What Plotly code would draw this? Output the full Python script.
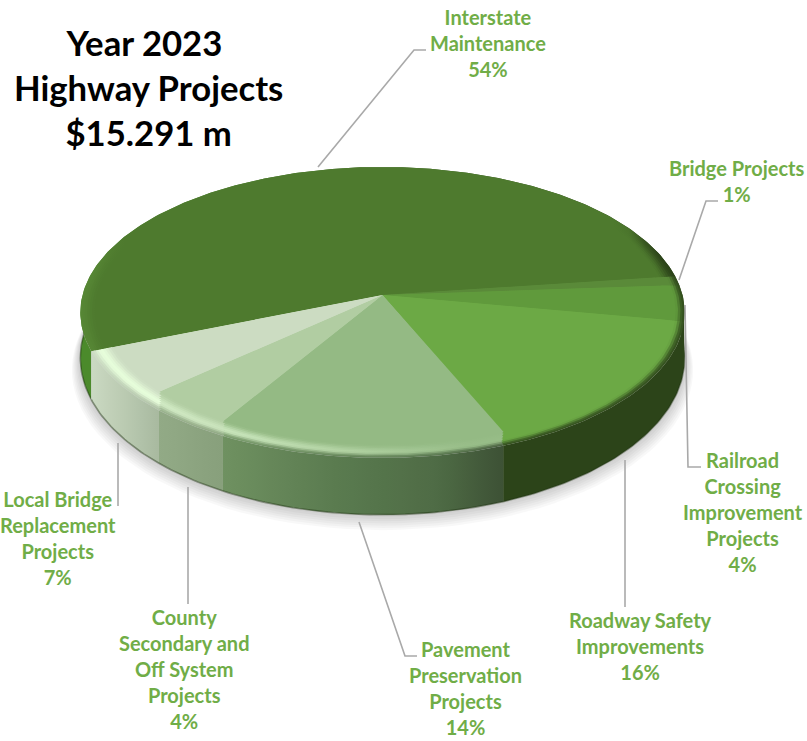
import math
import plotly.graph_objects as go

# ---- data ----
categories = ["Interstate<br>Maintenance", "Bridge Projects",
              "Railroad<br>Crossing<br>Improvement<br>Projects",
              "Roadway Safety<br>Improvements",
              "Pavement<br>Preservation<br>Projects",
              "County<br>Secondary and<br>Off System<br>Projects",
              "Local Bridge<br>Replacement<br>Projects"]
shares = [54.0, 1.0, 4.0, 16.3, 13.7, 4.0, 7.0]
title_lines = ["Year 2023&nbsp;", "Highway Projects", "$15.291 m"]

# ---- style ----
top_colors = ["#4E7A2E", "#5A8A39", "#609A3C", "#6CA945", "#94BA84", "#B1CDA2", "#CCDCC2"]
wall_stops = [
    [(85, "#4B8A2B"), (130, "#4B8A2B"), (600, "#2C4419")],
    [(0, "#2C4419")],
    [(0, "#2C4419")],
    [(0, "#2C4419")],
    [(222, "#6F9161"), (330, "#5B7C50"), (440, "#4E6B45"), (505, "#3C5034")],
    [(158, "#92AA86"), (222, "#88A07C")],
    [(90, "#CBDAC3"), (158, "#A9BAA0")],
]
glow_strength = [0, 0, 0, 0, 0.85, 0.6, 1.0]
label_color = "#70AD47"
leader_color = "#A9A9A9"
label_pos = [(488, 43), (737, 181), (743, 512), (640, 646), (465, 688), (184, 669), (58, 538)]
leaders = [
    [(318, 167), (414, 50), (426, 50)],
    [(679, 280), (706, 201), (718, 201)],
    [(685, 305), (688, 467), (701, 467)],
    [(625, 460), (625, 607)],
    [(359, 522), (405, 656), (417, 656)],
    [(188, 487), (188, 604)],
    [(118, 443), (118, 506)],
]

# ---- geometry of the tilted disc ----
CX, CY, A, B, K, DEPTH = 382.5, 295.0, 300.0, 143.4, 0.12, 44.0
START = 158.0


def project(t_deg, r=1.0, depth=0.0, grow=0.0):
    t = math.radians(t_deg)
    X, Y = r * math.cos(t), r * math.sin(t)
    s = 1.0 / (1.0 - K * Y)
    rr = 1.0 / (1.0 - K * math.sin(t))
    return CX + (A * s * X) * (1 + grow), CY + B * s * Y + depth * rr * rr


def warp(a, r):
    """On the front of the disc the bevel's crease runs straight down: find the
    angle at radius r with the same x as the edge angle a at the outer rim."""
    if math.sin(math.radians(a)) < 0.6:
        return a
    target = project(a)[0]
    best, err = a, 1e9
    for k in range(-60, 61):
        b = a + k * 0.25
        e = abs(project(b, r)[0] - target)
        if e < err:
            best, err = b, e
    return best


def rgb(c):
    return tuple(int(c[i:i + 2], 16) for i in (1, 3, 5))


def mix(a, b, w):
    return tuple(a[i] + (b[i] - a[i]) * w for i in range(3))


def css(c):
    return "rgb(%d,%d,%d)" % tuple(round(v) for v in c)


def wall_color(i, x):
    st = wall_stops[i]
    if x <= st[0][0]:
        return rgb(st[0][1])
    for (x0, c0), (x1, c1) in zip(st, st[1:]):
        if x <= x1:
            return mix(rgb(c0), rgb(c1), (x - x0) / (x1 - x0))
    return rgb(st[-1][1])


def smooth(u):
    u = max(0.0, min(1.0, u))
    return u * u * (3 - 2 * u)


def glow(x):
    pts = [(0, 0.95), (160, 0.95), (222, 0.75), (350, 0.4), (470, 0.05), (900, 0.0)]
    for (x0, v0), (x1, v1) in zip(pts, pts[1:]):
        if x <= x1:
            return v0 + (v1 - v0) * (x - x0) / (x1 - x0)
    return 0.0


def rim_color(i, x, u):
    top = rgb(top_colors[i])
    if i == 0:
        # the large back slice: faint lighter rim on the left, dark on the right
        left = smooth((125 - x) / 35)
        right = smooth((x - 620) / 40)
        c = mix(top, (86, 134, 52), left * smooth((u - 0.3) / 0.7))
        return mix(c, (44, 68, 25), right * smooth((u - 0.2) / 0.8))
    hi = mix(top, (232, 255, 220), glow(x) * glow_strength[i])
    if u < 0.6:
        return mix(top, hi, smooth(u / 0.6))
    return mix(hi, wall_color(i, x), 0.85 * smooth((u - 0.6) / 0.4))


GX0, GX1 = 60.0, 710.0
NSTOPS = 40


def gradient(fn):
    cs = []
    for k in range(NSTOPS + 1):
        f = k / NSTOPS
        cs.append([f, css(fn(GX0 + (GX1 - GX0) * f))])
    return dict(type="horizontal", colorscale=cs, start=GX0, stop=GX1)


def poly(xs, ys, **kw):
    return go.Scatter(x=xs, y=ys, mode="lines", fill="toself", line=dict(width=0),
                      hoverinfo="skip", showlegend=False, **kw)


total = sum(shares)
edges = [START]
for v in shares:
    edges.append(edges[-1] + 360.0 * v / total)

traces = []

# soft shadow under the disc
for g in range(1, 8):
    pts = [project(a * 3.0, 1.0, DEPTH + 1.7 * g, 0.004 * g) for a in range(121)]
    traces.append(poly([p[0] for p in pts], [p[1] for p in pts],
                       fillcolor="rgba(0,0,0,0.028)"))

# walls
for i in range(len(shares)):
    a0, a1 = edges[i], edges[i + 1]
    n = max(4, int(a1 - a0))
    ang = [a0 + (a1 - a0) * j / n for j in range(n + 1)]
    up = [project(a) for a in ang]
    lo = [project(a, 1.0, DEPTH) for a in ang]
    ring = up + lo[::-1]
    traces.append(poly([p[0] for p in ring], [p[1] for p in ring],
                       fillgradient=gradient(lambda x, i=i: wall_color(i, x))))
    traces.append(go.Scatter(x=[p[0] for p in lo], y=[p[1] for p in lo], mode="lines",
                             line=dict(width=1.6, color="rgba(28,48,16,0.45)"),
                             hoverinfo="skip", showlegend=False))

# top faces: nested sectors, outermost rim first, so no seams show
RADII = [1.0, 0.993, 0.986, 0.978, 0.97, 0.962, 0.954, 0.946, 0.938, 0.93]
for m, r in enumerate(RADII):
    u = 1.0 - m / (len(RADII) - 1)
    for i in range(len(shares)):
        a0, a1 = warp(edges[i], r), warp(edges[i + 1], r)
        n = max(4, int(a1 - a0))
        ang = [a0 + (a1 - a0) * j / n for j in range(n + 1)]
        pts = [project(a, r) for a in ang] + [(CX, CY)]
        xs = [p[0] for p in pts] + [pts[0][0]]
        ys = [p[1] for p in pts] + [pts[0][1]]
        traces.append(poly(xs, ys, fillgradient=gradient(lambda x, i=i, u=u: rim_color(i, x, u))))

fig = go.Figure(traces)

annotations = []
for name, v, (x, y) in zip(categories, shares, label_pos):
    annotations.append(dict(x=x, y=y, xref="x", yref="y", showarrow=False, align="center",
                            xanchor="center", yanchor="middle", text=f"<b>{name}<br>{v:.0f}%</b>",
                            font=dict(family="Lato", size=20, color=label_color)))
annotations.append(dict(x=148, y=87, xref="x", yref="y", showarrow=False, align="center",
                        xanchor="center", yanchor="middle",
                        text="<b>" + "<br>".join(title_lines) + "</b>",
                        font=dict(family="Lato", size=34.7, color="#000000")))

shapes = []
for path in leaders:
    d = "M " + " L ".join(f"{x} {y}" for x, y in path)
    shapes.append(dict(type="path", path=d, xref="x", yref="y", layer="above",
                       line=dict(color=leader_color, width=1.6)))

fig.update_layout(
    width=807, height=741, margin=dict(l=0, r=0, t=0, b=0),
    paper_bgcolor="white", plot_bgcolor="white", showlegend=False,
    xaxis=dict(range=[0, 807], visible=False, fixedrange=True),
    yaxis=dict(range=[741, 0], visible=False, fixedrange=True),
    annotations=annotations, shapes=shapes,
)
fig.write_html("out.html", config=dict(displayModeBar=False),
               post_script="document.body.style.margin='0';")
